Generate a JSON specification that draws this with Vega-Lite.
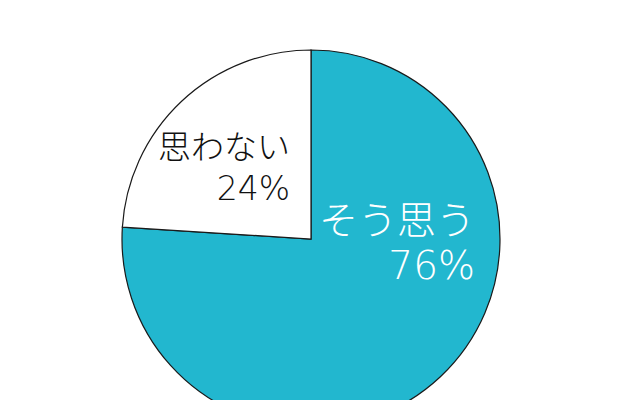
{
  "$schema": "https://vega.github.io/schema/vega-lite/v6.json",
  "description": "Pie chart: そう思う 76% / 思わない 24%",
  "width": 622,
  "height": 478,
  "autosize": "none",
  "padding": 0,
  "background": "white",
  "data": {
    "values": [
      {"answer": "そう思う", "pct": 76, "rank": 1, "label": "そう思う\n76%"},
      {"answer": "思わない", "pct": 24, "rank": 2, "label": "思わない\n24%"}
    ]
  },
  "layer": [
    {
      "mark": {"type": "arc", "outerRadius": 189, "stroke": "#1a1a1a", "strokeWidth": 1.2},
      "encoding": {
        "theta": {"field": "pct", "type": "quantitative", "stack": true},
        "order": {"field": "rank", "type": "quantitative"},
        "color": {
          "field": "answer",
          "type": "nominal",
          "scale": {"domain": ["そう思う", "思わない"], "range": ["#22B7CF", "#ffffff"]},
          "legend": null
        }
      }
    },
    {
      "transform": [{"filter": "datum.answer === '思わない'"}],
      "mark": {
        "type": "text",
        "dx": -21,
        "dy": -90,
        "align": "right",
        "baseline": "middle",
        "lineBreak": "\n",
        "lineHeight": 41,
        "font": "DejaVu Sans, Noto Sans CJK JP",
        "fontWeight": 200,
        "fontSize": 33,
        "color": "#111111"
      },
      "encoding": {"text": {"field": "label"}}
    },
    {
      "transform": [{"filter": "datum.answer === 'そう思う'"}],
      "mark": {
        "type": "text",
        "dx": 164,
        "dy": -17,
        "align": "right",
        "baseline": "middle",
        "lineBreak": "\n",
        "lineHeight": 45,
        "font": "DejaVu Sans, Noto Sans CJK JP",
        "fontWeight": 200,
        "fontSize": 39,
        "color": "#ffffff"
      },
      "encoding": {"text": {"field": "label"}}
    }
  ],
  "config": {"view": {"stroke": null}}
}
